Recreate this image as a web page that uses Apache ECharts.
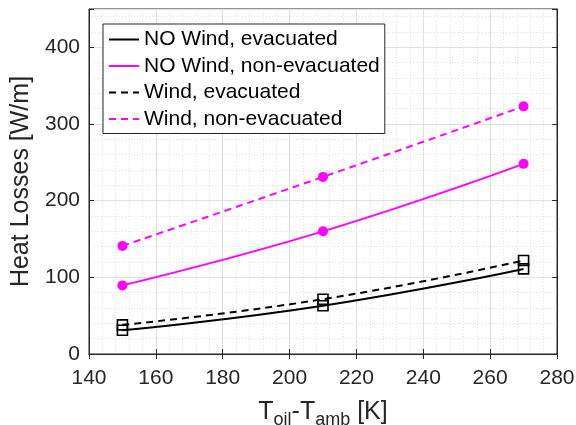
<!DOCTYPE html>
<html>
<head>
<meta charset="utf-8">
<script src="https://cdn.jsdelivr.net/npm/echarts@6/dist/echarts.min.js"></script>
<style>html,body{margin:0;padding:0;background:#fff}#c{width:576px;height:425px}</style>
</head>
<body>
<div id="c"></div>
<script>
const xValues = [150, 210, 270];
const noWindEvac = [31, 63, 111];
const noWindNonEvac = [89.5, 160, 248];
const windEvac = [38, 71.5, 122];
const windNonEvac = [141, 231, 323];
const seriesNames = ['NO Wind, evacuated', 'NO Wind, non-evacuated', 'Wind, evacuated', 'Wind, non-evacuated'];
const xTicks = [140, 160, 180, 200, 220, 240, 260, 280];
const yTicks = [0, 100, 200, 300, 400];

const axisColor = '#262626';
const font = 'Liberation Sans, Arial, Helvetica, sans-serif';
function pairs(ys) { return xValues.map((x, i) => [x, ys[i]]); }

const chart = echarts.init(document.getElementById('c'));
const mk = (name, data, color, dashed, square) => ({
  name, type: 'line', data: pairs(data), smooth: true,
  symbol: square ? 'rect' : 'circle',
  symbolSize: square ? 10 : 10,
  lineStyle: { color, width: 2, type: dashed ? [7, 5] : 'solid' },
  itemStyle: square ? { color: 'rgba(255,255,255,0)', borderColor: color, borderWidth: 1.6 } : { color },
  z: square ? 3 : 2
});
const commonX = {
  type: 'value', min: 140, max: 280, interval: 20,
  axisLine: { show: true, lineStyle: { color: axisColor, width: 1 } },
  axisTick: { show: true, inside: true, length: 5, lineStyle: { color: axisColor } },
  minorTick: { show: false, splitNumber: 5 },
};
chart.setOption({
  animation: false,
  backgroundColor: '#fff',
  grid: { left: 89, right: 19, top: 9, bottom: 71, show: true, borderColor: axisColor, borderWidth: 1,
          containLabel: false, outerBoundsMode: 'none' },
  legend: {
    orient: 'vertical', left: 103, top: 24,
    padding: [5, 5, 4, 5], itemGap: 5.5, itemWidth: 30, itemHeight: 14,
    borderColor: axisColor, borderWidth: 1, backgroundColor: '#fff',
    itemStyle: { opacity: 0 },
    textStyle: { fontFamily: font, fontSize: 21, color: '#000', lineHeight: 20 },
    data: seriesNames
  },
  xAxis: [Object.assign({}, commonX, {
    position: 'bottom',
    axisLabel: { fontFamily: font, fontSize: 21, color: axisColor, margin: 14 },
    splitLine: { show: true, lineStyle: { color: '#e0e0e0', width: 1 } },
    minorSplitLine: { show: true, lineStyle: { color: '#e2e2e2', width: 1, type: [1, 2] } },
    minorTick: { show: false, splitNumber: 5 },
    name: '{a|T}{s|oil}{a|-T}{s|amb}{a| [K]}',
    nameLocation: 'middle', nameGap: 41,
    nameTextStyle: {
      rich: {
        a: { fontFamily: font, fontSize: 25, color: axisColor },
        s: { fontFamily: font, fontSize: 18, color: axisColor, padding: [16, 0, 0, 0] }
      }
    }
  }), Object.assign({}, commonX, {
    position: 'top', axisLabel: { show: false }, splitLine: { show: false }
  })],
  yAxis: [{
    type: 'value', min: 0, max: 450, interval: 100,
    axisLine: { show: true, lineStyle: { color: axisColor, width: 1 } },
    axisTick: { show: true, inside: true, length: 5, lineStyle: { color: axisColor } },
    axisLabel: { fontFamily: font, fontSize: 21, color: axisColor, margin: 9,
      formatter: v => yTicks.indexOf(v) >= 0 ? String(v) : '' },
    splitLine: { show: true, lineStyle: { color: '#e0e0e0', width: 1 } },
    minorTick: { show: false, splitNumber: 5 },
    minorSplitLine: { show: true, lineStyle: { color: '#e2e2e2', width: 1, type: [1, 2] } },
    name: 'Heat Losses [W/m]', nameLocation: 'middle', nameGap: 53, nameRotate: 90,
    nameTextStyle: { fontFamily: font, fontSize: 25, color: axisColor }
  }, {
    type: 'value', min: 0, max: 450, interval: 100, position: 'right',
    axisLine: { show: true, lineStyle: { color: axisColor, width: 1 } },
    axisTick: { show: true, inside: true, length: 5, lineStyle: { color: axisColor } },
    axisLabel: { show: false }, splitLine: { show: false }
  }],
  series: [
    mk(seriesNames[0], noWindEvac, '#000000', false, true),
    mk(seriesNames[1], noWindNonEvac, '#ff00ff', false, false),
    mk(seriesNames[2], windEvac, '#000000', true, true),
    mk(seriesNames[3], windNonEvac, '#ff00ff', true, false)
  ]
});
</script>
</body>
</html>
